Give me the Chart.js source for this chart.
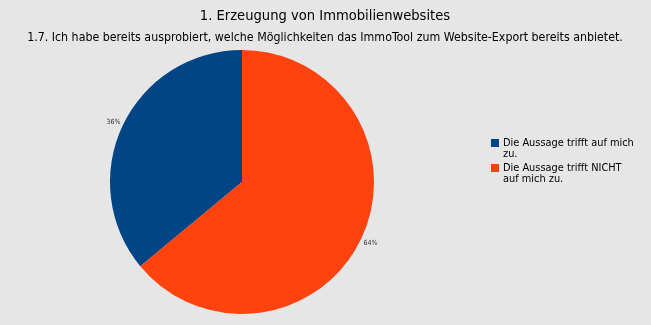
<!DOCTYPE html>
<html>
<head>
<meta charset="utf-8">
<script src="https://cdn.jsdelivr.net/npm/chart.js@4"></script>
<style>
  html, body { margin: 0; padding: 0; background: #e6e6e6; }
  #wrap { width: 651px; height: 325px; }
</style>
</head>
<body>
<div id="wrap"><canvas id="myChart" width="651" height="325"></canvas></div>
<script>
// Chart data
const labels = ['Die Aussage trifft auf mich zu.', 'Die Aussage trifft NICHT auf mich zu.'];
const legendLines = [['Die Aussage trifft auf mich', 'zu.'], ['Die Aussage trifft NICHT', 'auf mich zu.']];
const values = [36, 64];
const pctLabels = ['36%', '64%'];
const colors = ['#004586', '#ff420e'];
const titleText = '1. Erzeugung von Immobilienwebsites';
const subtitleText = '1.7. Ich habe bereits ausprobiert, welche Möglichkeiten das ImmoTool zum Website-Export bereits anbietet.';

// Titles, value labels and wrapped legend
const extras = {
    id: 'extras',
    afterDraw(chart) {
        const ctx = chart.ctx;
        ctx.save();
        ctx.fillStyle = '#000';
        ctx.textAlign = 'center';
        ctx.textBaseline = 'middle';
        ctx.font = '14.6px "DejaVu Sans Condensed", "DejaVu Sans"';
        ctx.fillText(titleText, 325, 16);
        ctx.font = '12.3px "DejaVu Sans Condensed", "DejaVu Sans"';
        ctx.fillText(subtitleText, 325, 38);

        // percentage labels outside the slices
        ctx.font = '7px "DejaVu Sans Condensed", "DejaVu Sans"';
        ctx.fillStyle = '#333';
        chart.getDatasetMeta(0).data.forEach((arc, i) => {
            const mid = (arc.startAngle + arc.endAngle) / 2;
            const d = arc.outerRadius + 10;
            ctx.fillText(pctLabels[i], arc.x + Math.cos(mid) * d, arc.y + Math.sin(mid) * d + 1);
        });

        // legend
        ctx.textAlign = 'left';
        ctx.font = '9.8px "DejaVu Sans"';
        let y = 143;
        legendLines.forEach((lines, i) => {
            ctx.fillStyle = colors[i];
            ctx.fillRect(491, y - 4, 8, 8);
            ctx.fillStyle = '#000';
            lines.forEach((ln, j) => {
                ctx.fillText(ln, 503, y + j * 11.5);
            });
            y += 25;
        });
        ctx.restore();
    }
};

const data = {
    labels: labels,
    datasets: [{
        data: values,
        backgroundColor: colors,
        borderWidth: 0
    }]
};

const config = {
    type: 'pie',
    data: data,
    options: {
        responsive: false,
        animation: false,
        rotation: -129.6,
        layout: { padding: { left: 110, right: 277, top: 50, bottom: 11 } },
        plugins: {
            legend: { display: false },
            tooltip: { enabled: false }
        }
    },
    plugins: [extras]
};

const myChart = new Chart(document.getElementById('myChart'), config);
</script>
</body>
</html>
